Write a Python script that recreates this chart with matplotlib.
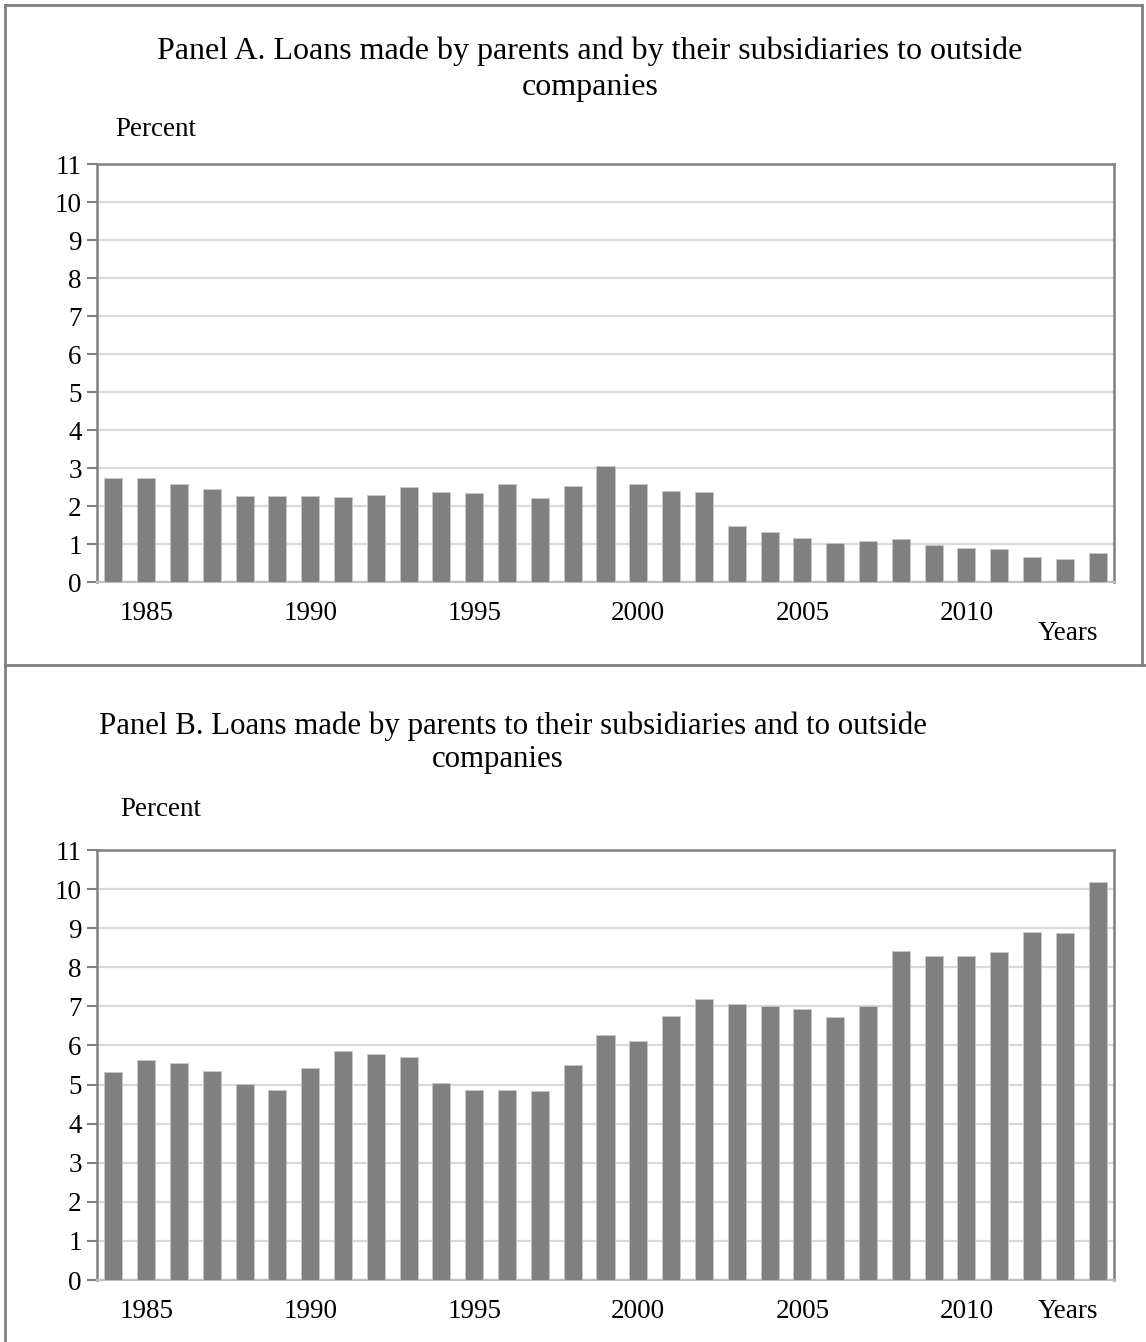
import matplotlib
matplotlib.use("Agg")
import matplotlib.pyplot as plt
from matplotlib.lines import Line2D
import numpy as np

plt.rcParams['font.family'] = ['Liberation Serif', 'DejaVu Serif']

years = list(range(1984, 2015))
panel_a = [2.75, 2.75, 2.59, 2.45, 2.27, 2.26, 2.26, 2.25, 2.30, 2.49, 2.36, 2.34,
           2.57, 2.21, 2.53, 3.04, 2.57, 2.40, 2.38, 1.47, 1.31, 1.15, 1.02, 1.08,
           1.12, 0.98, 0.89, 0.87, 0.67, 0.61, 0.76]
panel_b = [5.32, 5.62, 5.54, 5.34, 5.01, 4.87, 5.42, 5.85, 5.79, 5.71, 5.03, 4.85,
           4.87, 4.83, 5.51, 6.26, 6.12, 6.75, 7.20, 7.07, 7.01, 6.94, 6.73, 7.00,
           8.41, 8.28, 8.30, 8.38, 8.89, 8.87, 10.17]
yticks = list(range(0, 12))
xtick_years = [1985, 1990, 1995, 2000, 2005, 2010]

W, H = 1146, 1342
fig = plt.figure(figsize=(W / 100, H / 100), dpi=100)

def fx(x):
    return x / W

def fy(y):
    return 1 - y / H

GRAY = '#808080'
GRID = '#d9d9d9'
TICK_FS = 19.5
TITLE_FS = 23
TITLE_B_FS = 22.2

def make_panel(top, bottom, values):
    ax = fig.add_axes([fx(97), fy(bottom), fx(1114) - fx(97), fy(top) - fy(bottom)])
    x = np.arange(len(years))
    ax.bar(x, values, width=0.55, color=GRAY, edgecolor='#c8c8c8', linewidth=0.6, zorder=3)
    ax.set_xlim(-0.5, len(years) - 0.5)
    ax.set_ylim(0, 11)
    ax.set_yticks(yticks)
    ax.set_yticklabels([str(t) for t in yticks], fontsize=TICK_FS)
    ax.set_xticks([years.index(y) for y in xtick_years])
    ax.set_xticklabels([str(y) for y in xtick_years], fontsize=TICK_FS)
    ax.tick_params(axis='x', length=0, pad=14)
    ax.tick_params(axis='y', length=7, width=1.5, color=GRAY, pad=4)
    ax.yaxis.grid(True, color=GRID, linewidth=1.6, zorder=0)
    ax.set_axisbelow(True)
    for s in ['left', 'top', 'right']:
        ax.spines[s].set_color(GRAY)
        ax.spines[s].set_linewidth(1.8)
    ax.spines['bottom'].set_color('#c0c0c0')
    ax.spines['bottom'].set_linewidth(1.6)
    return ax

axA = make_panel(164, 582, panel_a)
axB = make_panel(850, 1280, panel_b)

# Titles and labels
fig.text(fx(590), fy(51), 'Panel A. Loans made by parents and by their subsidiaries to outside',
         ha='center', va='center', fontsize=TITLE_FS)
fig.text(fx(590), fy(87), 'companies', ha='center', va='center', fontsize=TITLE_FS)
fig.text(fx(115), fy(130), 'Percent', ha='left', va='center', fontsize=TICK_FS)
fig.text(fx(1068), fy(634), 'Years', ha='center', va='center', fontsize=TICK_FS)

fig.text(fx(513), fy(726), 'Panel B. Loans made by parents to their subsidiaries and to outside',
         ha='center', va='center', fontsize=TITLE_B_FS)
fig.text(fx(498), fy(760), 'companies', ha='center', va='center', fontsize=TITLE_B_FS)
fig.text(fx(120), fy(809), 'Percent', ha='left', va='center', fontsize=TICK_FS)
fig.text(fx(1068), fy(1312), 'Years', ha='center', va='center', fontsize=TICK_FS)

# Outer borders
lw = 2.0
for (x0, y0, x1, y1) in [(5, 5, 1142, 5), (5, 5, 5, 1342), (1142, 5, 1142, 665), (5, 665, 1146, 665)]:
    fig.add_artist(Line2D([fx(x0), fx(x1)], [fy(y0), fy(y1)], color=GRAY, linewidth=lw,
                          transform=fig.transFigure))

fig.savefig('out.png', dpi=100, facecolor='white')
